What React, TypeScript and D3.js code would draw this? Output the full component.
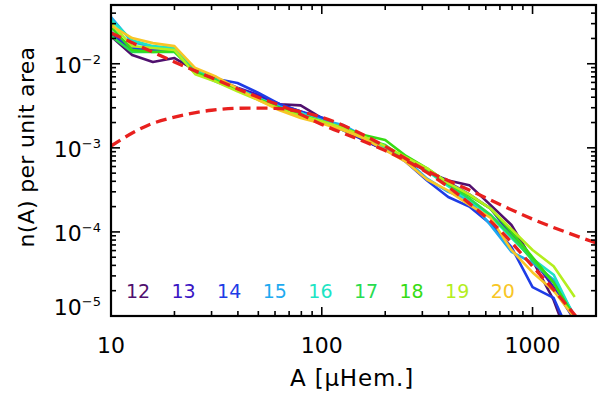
import * as d3 from 'd3'

// bin centres (log spaced) in micro-hemispheres
const BINS = [10, 12.6, 15.8, 20, 25.1, 31.6, 39.8, 50.1, 63.1, 79.4, 100, 126, 158, 200, 251, 316, 398, 501, 631, 794, 1000, 1259, 1585]

const YEARS = ['12', '13', '14', '15', '16', '17', '18', '19', '20']
const COLORS = ['#50106e', '#3a16c4', '#1e3ce6', '#1eaaf0', '#1ee4c4', '#28dc50', '#36dc14', '#b4ee1e', '#f8c626']

const N12 = [0.0213, 0.0127, 0.0105, 0.0117, 0.0084, 0.0064, 0.0051, 0.0041, 0.0033, 0.0032, 0.00226, 0.00172, 0.00124, 0.00094, 0.00072, 0.00052, 0.00041, 0.00036, 0.00021, 0.000121, 0.000046, 0.0000155, 0.0000033]
const N13 = [0.0225, 0.0146, 0.0146, 0.0146, 0.0084, 0.0066, 0.0052, 0.00425, 0.0033, 0.0027, 0.00214, 0.00163, 0.00124, 0.00094, 0.00075, 0.00054, 0.00039, 0.00028, 0.00019, 0.000092, 0.000048, 0.000022, 0.0000089]
const N14 = [0.0238, 0.0154, 0.0146, 0.0146, 0.0084, 0.0066, 0.0059, 0.0045, 0.0033, 0.0027, 0.0023, 0.00172, 0.0013, 0.00099, 0.00068, 0.00041, 0.00026, 0.0002, 0.000125, 0.000066, 0.000022, 0.0000164, 0.0000045]
const N15 = [0.0359, 0.0181, 0.0158, 0.015, 0.008, 0.0061, 0.0049, 0.0039, 0.0031, 0.0026, 0.00214, 0.00187, 0.00137, 0.00099, 0.00072, 0.00043, 0.0003, 0.00024, 0.000121, 0.000058, 0.000043, 0.000027, 0.00001]
const N16 = [0.0331, 0.0191, 0.0162, 0.0154, 0.0084, 0.0064, 0.0051, 0.0039, 0.003, 0.0026, 0.00207, 0.00177, 0.00134, 0.00102, 0.00075, 0.00053, 0.00035, 0.00024, 0.000155, 0.000085, 0.000048, 0.000031, 0.0000095]
const N17 = [0.0213, 0.0138, 0.0138, 0.0138, 0.008, 0.0064, 0.0049, 0.0038, 0.003, 0.00245, 0.00207, 0.00163, 0.0013, 0.00108, 0.00072, 0.00054, 0.00037, 0.00025, 0.00016, 0.000089, 0.000046, 0.000025, 0.0000095]
const N18 = [0.0273, 0.0146, 0.0138, 0.0142, 0.0077, 0.0062, 0.0049, 0.0038, 0.003, 0.00245, 0.00207, 0.00172, 0.00142, 0.00124, 0.0008, 0.00057, 0.00038, 0.00027, 0.00019, 0.0001, 0.00005, 0.000025, 0.0000095]
const N19 = [0.0305, 0.0162, 0.0154, 0.0146, 0.0075, 0.0061, 0.0047, 0.0037, 0.0029, 0.0024, 0.00207, 0.00172, 0.00137, 0.00105, 0.00077, 0.00057, 0.00038, 0.00028, 0.00019, 0.000108, 0.000061, 0.000039, 0.0000168]
const N20 = [0.0285, 0.0202, 0.0176, 0.0162, 0.0089, 0.007, 0.0051, 0.0037, 0.0028, 0.00226, 0.00195, 0.00163, 0.0013, 0.00094, 0.00068, 0.00042, 0.00031, 0.00021, 0.000148, 0.000061, 0.000033, 0.00002, 0.0000095]
const SERIES = [N12, N13, N14, N15, N16, N17, N18, N19, N20]

// fitted curves (red dashed)
const FIT_A = [10, 15, 20, 30, 50, 70, 100, 150, 200, 300, 400, 500, 700, 1000, 1300, 1600]
const FIT_N = [0.0232, 0.0146, 0.0105, 0.0068, 0.004, 0.0029, 0.0019, 0.00126, 0.00093, 0.00055, 0.00034, 0.00022, 0.000105, 0.000039, 0.0000187, 0.00001]
const WIDE_A = [10, 15, 20, 30, 45, 60, 100, 200, 300, 500, 1000, 2000]
const WIDE_N = [0.00105, 0.00186, 0.00232, 0.0028, 0.00297, 0.00295, 0.0023, 0.00104, 0.00057, 0.000316, 0.000142, 0.000074]

const X_MAJOR = [10, 100, 1000]
const Y_MAJOR = [1e-5, 1e-4, 1e-3, 1e-2]
const Y_EXP = ['\u22125', '\u22124', '\u22123', '\u22122']

const FONT = '"DejaVu Sans", Verdana, sans-serif'

export default function App() {
  const W = 600, H = 393
  const L = 111, R = 596, T = 5, B = 316

  const x = d3.scaleLog().domain([10, 2000]).range([L, R])
  const y = d3.scaleLog().domain([1e-5, 0.05]).range([B, T])

  const xMinor = x.ticks().filter(v => !X_MAJOR.includes(v) && v < 2000)
  const yMinor = y.ticks().filter(v => !Y_MAJOR.some(m => Math.abs(m - v) / m < 1e-6) && v < 0.05)

  const line = d3.line<[number, number]>()
    .x(d => x(d[0]))
    .y(d => y(d[1]))

  const smooth = d3.line<[number, number]>()
    .x(d => x(d[0]))
    .y(d => y(d[1]))
    .curve(d3.curveMonotoneX)

  const MAJ = 9, MIN = 5

  return (
    <svg width={W} height={H} style={{ position: 'absolute', left: 0, top: 0, background: '#fff' }} fontFamily={FONT}>
      <defs>
        <clipPath id="plot">
          <rect x={L} y={T} width={R - L} height={B - T} />
        </clipPath>
      </defs>

      <g clipPath="url(#plot)" fill="none" strokeLinejoin="round">
        {SERIES.map((s, i) => (
          <path key={i} d={line(BINS.map((a, k) => [a, s[k]] as [number, number])) || ''}
            stroke={COLORS[i]} strokeWidth={2.6} />
        ))}
        <path d={smooth(FIT_A.map((a, k) => [a, FIT_N[k]] as [number, number])) || ''}
          stroke="#e8201e" strokeWidth={3.3} strokeDasharray="11 6" />
        <path d={smooth(WIDE_A.map((a, k) => [a, WIDE_N[k]] as [number, number])) || ''}
          stroke="#e8201e" strokeWidth={3.3} strokeDasharray="11 6" />
      </g>

      {/* year labels */}
      {YEARS.map((t, i) => (
        <text key={t} x={138 + i * 45.6} y={298} fontSize={19} textAnchor="middle" fill={COLORS[i]}>{t}</text>
      ))}

      {/* ticks, all four sides pointing in */}
      <g stroke="#000" strokeWidth={1.6}>
        {X_MAJOR.map(v => (
          <g key={'xm' + v}>
            <line x1={x(v)} x2={x(v)} y1={B} y2={B - MAJ} />
            <line x1={x(v)} x2={x(v)} y1={T} y2={T + MAJ} />
          </g>
        ))}
        {xMinor.map(v => (
          <g key={'xn' + v}>
            <line x1={x(v)} x2={x(v)} y1={B} y2={B - MIN} />
            <line x1={x(v)} x2={x(v)} y1={T} y2={T + MIN} />
          </g>
        ))}
        {Y_MAJOR.map(v => (
          <g key={'ym' + v}>
            <line x1={L} x2={L + MAJ} y1={y(v)} y2={y(v)} />
            <line x1={R} x2={R - MAJ} y1={y(v)} y2={y(v)} />
          </g>
        ))}
        {yMinor.map(v => (
          <g key={'yn' + v}>
            <line x1={L} x2={L + MIN} y1={y(v)} y2={y(v)} />
            <line x1={R} x2={R - MIN} y1={y(v)} y2={y(v)} />
          </g>
        ))}
      </g>

      <rect x={L} y={T} width={R - L} height={B - T} fill="none" stroke="#000" strokeWidth={2.2} />

      {/* tick labels */}
      {X_MAJOR.map(v => (
        <text key={'xl' + v} x={x(v)} y={353} fontSize={22} textAnchor="middle" fill="#000">{v}</text>
      ))}
      {Y_MAJOR.map((v, i) => (
        <text key={'yl' + v} x={101} y={i === 0 ? y(v) - 1 : y(v) + 9} fontSize={22} textAnchor="end" fill="#000">
          10<tspan fontSize={13} dy={-9}>{Y_EXP[i]}</tspan>
        </text>
      ))}

      {/* axis titles */}
      <text x={352} y={386} fontSize={23} letterSpacing={0.8} textAnchor="middle" fill="#000">A [μHem.]</text>
      <text transform={`translate(34,147) rotate(-90)`} fontSize={22} letterSpacing={0.3} textAnchor="middle" fill="#000">n(A) per unit area</text>
    </svg>
  )
}
